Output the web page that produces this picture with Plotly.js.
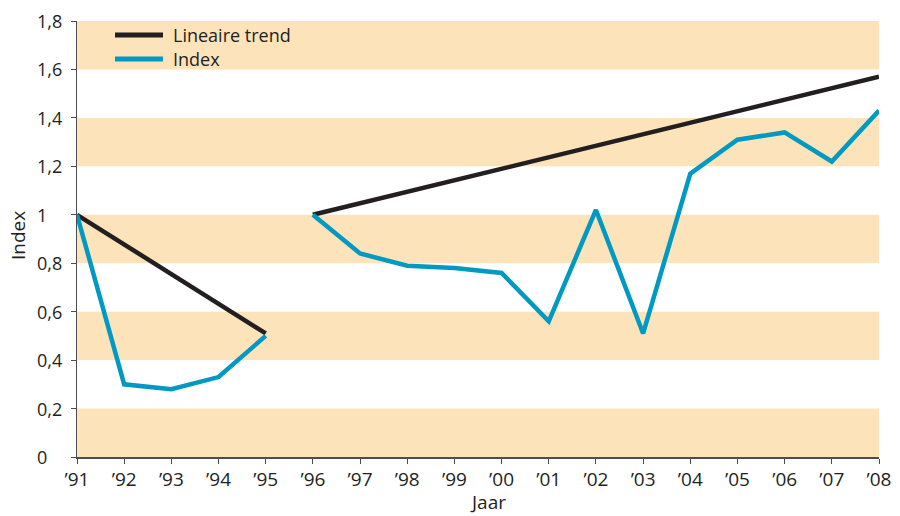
<!DOCTYPE html>
<html>
<head>
<meta charset="utf-8">
<script src="https://cdn.plot.ly/plotly-3.0.1.min.js"></script>
<style>html,body{margin:0;padding:0;background:#fff;}#chart{width:900px;height:516px;}</style>
</head>
<body>
<div id="chart"></div>
<script>
const years = ["’91","’92","’93","’94","’95","’96","’97","’98","’99","’00","’01","’02","’03","’04","’05","’06","’07","’08"];
const indexValues = [1.0,0.30,0.28,0.33,0.50,1.0,0.84,0.79,0.78,0.76,0.56,1.02,0.51,1.17,1.31,1.34,1.22,1.43];
const breakAfter = "’95";
const trendX = ["’91","’95",null,"’96","’08"];
const trendY = [1.0,0.51,null,1.0,1.57];
const yTickVals = [0,0.2,0.4,0.6,0.8,1,1.2,1.4,1.6,1.8];
const yTickText = ["0","0,2","0,4","0,6","0,8","1","1,2","1,4","1,6","1,8"];
const bandStarts = [0,0.4,0.8,1.2,1.6];
const seriesNames = ["Lineaire trend","Index"];
const seriesColors = ["#231f20","#0099c2"];

// split the index line at the break (two periods)
const bi = years.indexOf(breakAfter) + 1;
const indexX = years.slice(0,bi).concat([null], years.slice(bi));
const indexY = indexValues.slice(0,bi).concat([null], indexValues.slice(bi));

const FONT = "Open Sans, Lato, sans-serif";
const W = 900, H = 516, L = 77, R = 21, T = 21, B = 59;
const pw = W - L - R, ph = H - T - B;
const px = v => (v - L) / pw;          // pixel -> paper x
const py = v => 1 - (v - T) / ph;      // pixel -> paper y

const shapes = bandStarts.map(b => ({
  type:'rect', xref:'paper', yref:'y', x0:0, x1:1, y0:b, y1:b+0.2,
  fillcolor:'#fde3ba', line:{width:0}, layer:'below'
}));
const annotations = [];
// legend (manual, for exact placement)
seriesNames.forEach((n,i) => {
  const yy = 35 + i*24;
  shapes.push({type:'line', xref:'paper', yref:'paper', x0:px(115), x1:px(163), y0:py(yy), y1:py(yy),
               line:{color:seriesColors[i], width:5}});
  annotations.push({xref:'paper', yref:'paper', x:px(172), y:py(yy), xanchor:'left', yanchor:'middle',
                    text:n, showarrow:false, borderpad:0, font:{family:FONT, size:18, color:'#231f20'}});
});
// y tick labels, left aligned
yTickVals.forEach((v,i) => {
  annotations.push({xref:'paper', yref:'y', x:px(36), y:v, xanchor:'left', yanchor:'middle',
                    text:yTickText[i], showarrow:false, borderpad:0, font:{family:FONT, size:18, color:'#231f20'}});
});
// axis titles
annotations.push({xref:'paper', yref:'paper', x:px(488), y:py(502), xanchor:'center', yanchor:'middle',
                  text:'Jaar', showarrow:false, borderpad:0, font:{family:FONT, size:19, color:'#231f20'}});
annotations.push({xref:'paper', yref:'paper', x:px(18), y:py(236), xanchor:'center', yanchor:'middle',
                  text:'Index', textangle:-90, showarrow:false, borderpad:0, font:{family:FONT, size:19, color:'#231f20'}});

const traces = [
  {x:trendX, y:trendY, type:'scatter', mode:'lines', name:seriesNames[0],
   line:{color:seriesColors[0], width:4.5}, connectgaps:false},
  {x:indexX, y:indexY, type:'scatter', mode:'lines', name:seriesNames[1],
   line:{color:seriesColors[1], width:4.5}, connectgaps:false}
];

const layout = {
  width:W, height:H,
  margin:{l:L, r:R, t:T, b:B},
  paper_bgcolor:'#fff', plot_bgcolor:'rgba(0,0,0,0)',
  font:{family:FONT, size:18, color:'#231f20'},
  showlegend:false,
  xaxis:{type:'category', categoryorder:'array', categoryarray:years,
         range:[0,17], showgrid:false, zeroline:false, showline:true, linecolor:'#4d4d4d', linewidth:1.5,
         ticks:'outside', ticklen:5, tickcolor:'#4d4d4d', tickfont:{size:19}},
  yaxis:{range:[0,1.8], tickvals:yTickVals, showticklabels:false, showgrid:false, zeroline:false,
         showline:true, linecolor:'#4d4d4d', linewidth:1.5, ticks:'outside', ticklen:5, tickcolor:'#4d4d4d'},
  shapes:shapes,
  annotations:annotations
};
Plotly.newPlot('chart', traces, layout, {staticPlot:true, displayModeBar:false});
</script>
</body>
</html>
